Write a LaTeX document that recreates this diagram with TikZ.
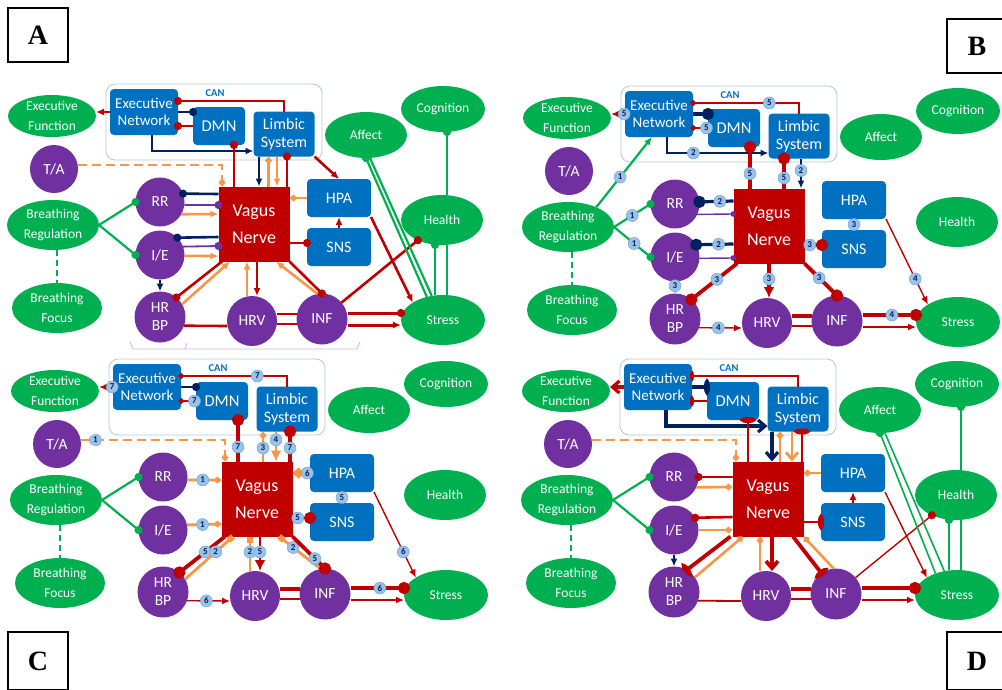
\documentclass[tikz,border=0pt]{standalone}
\usepackage{fontspec}
\setmainfont{Carlito}
\newfontfamily\lblfont{Liberation Serif}
\usetikzlibrary{shapes.geometric,arrows.meta}
\definecolor{grn}{RGB}{0,176,80}
\definecolor{prp}{RGB}{112,48,160}
\definecolor{blu}{RGB}{0,112,192}
\definecolor{dred}{RGB}{192,0,0}
\definecolor{org}{RGB}{247,150,70}
\definecolor{navy}{RGB}{0,32,96}
\definecolor{bdg}{RGB}{155,194,230}
\definecolor{canline}{RGB}{180,198,215}
\definecolor{lav}{RGB}{200,180,230}

\tikzset{
  ellnode/.style={ellipse, fill=grn, text=white, inner sep=0pt, outer sep=0pt, align=center, font=\fontsize{13.5}{19.5}\selectfont},
  bubble/.style={circle, fill=prp, text=white, inner sep=0pt, outer sep=0pt, align=center, font=\fontsize{15.5}{18}\selectfont},
  brain/.style={rectangle, rounded corners=4pt, fill=blu, text=white, inner sep=0pt, outer sep=0pt, align=center, font=\fontsize{15}{17}\selectfont},
  nerve/.style={rectangle, fill=dred, text=white, inner sep=0pt, outer sep=0pt, align=center, minimum width=71pt, minimum height=75pt, font=\fontsize{18}{27}\selectfont},
  canbox/.style={rectangle, rounded corners=9pt, draw=canline, line width=0.8pt, minimum width=216pt, minimum height=76pt},
  badge/.style={circle, fill=bdg, draw=bdg!70!blu, line width=0.5pt, inner sep=0pt, minimum size=12pt, text=navy, font=\fontsize{9}{9}\selectfont\bfseries},
  panelbox/.style={draw=black, line width=1.5pt, minimum width=60pt, minimum height=54pt, font=\lblfont\fontsize{28}{30}\selectfont\bfseries},
  rl/.style={draw=dred, line width=2.6pt},
  nl/.style={draw=navy, line width=2.6pt},
  ol/.style={draw=org, line width=2.6pt},
  gl/.style={draw=grn, line width=2.2pt},
  pl/.style={draw=prp, line width=1.8pt},
  tipto/.style={-{Latex[length=8pt,width=7pt]}},
  tipbig/.style={-{Latex[length=11pt,width=11pt]}},
  tipball/.style={-{Circle[length=8pt]}, shorten >=-4pt},
  tipsmall/.style={-{Circle[length=5.5pt]}, shorten >=-2.5pt},
  tipbigball/.style={-{Circle[length=12pt]}, shorten >=-6pt},
  tipdia/.style={-{Diamond[length=8pt,width=7pt]}},
  tipbigdia/.style={-{Diamond[length=12pt,width=11pt]}},
  tipsq/.style={-{Square[length=6pt,width=6pt]}},
  tipflat/.style={-{Ellipse[length=4pt,width=10pt]}, shorten >=-2pt},
  tipflatbig/.style={-{Ellipse[length=6pt,width=15pt]}, shorten >=-3pt},
  tipbarb/.style={-{Straight Barb[length=7pt,width=12pt]}},
  tadash/.style={dash pattern=on 9pt off 5pt},
}

% the nodes that every panel shares
\newcommand{\panelnodes}{%
  \node[canbox] (can) at (214,122) {};
  \node[text=blu, font=\fontsize{10.5}{10.5}\selectfont\bfseries] (cantag) at (215,93) {CAN};
  \node[ellnode, minimum width=88pt, minimum height=42pt] (ef) at (52,116) {Executive\\Function};
  \node[brain, minimum width=68pt, minimum height=46pt] (en) at (144,112) {Executive\\Network};
  \node[brain, minimum width=52pt, minimum height=38pt, font=\fontsize{16.5}{18}\selectfont] (dmn) at (219,126) {DMN};
  \node[brain, minimum width=61pt, minimum height=45pt, font=\fontsize{16}{18}\selectfont] (lim) at (284,134) {Limbic\\System};
  \node[ellnode, minimum width=82pt, minimum height=46pt] (aff) at (366,135) {Affect};
  \node[ellnode, minimum width=84pt, minimum height=46pt] (cog) at (443,109) {Cognition};
  \node[bubble, minimum size=48pt] (ta) at (54,169) {T/A};
  \node[ellnode, minimum width=92pt, minimum height=50pt] (br) at (53,225) {Breathing\\Regulation};
  \node[ellnode, minimum width=90pt, minimum height=50pt] (bf) at (57,308) {Breathing\\Focus};
  \node[bubble, minimum size=49pt] (rr) at (160,202) {RR};
  \node[bubble, minimum size=49pt] (ie) at (160,255) {I/E};
  \node[bubble, minimum size=51pt] (hrbp) at (160,317) {HR\\BP};
  \node[bubble, minimum size=50pt] (hrv) at (252,321) {HRV};
  \node[bubble, minimum size=51pt] (inf) at (322,319) {INF};
  \node[ellnode, minimum width=84pt, minimum height=50pt] (stress) at (443,320) {Stress};
  \node[ellnode, minimum width=82pt, minimum height=50pt] (health) at (442,220) {Health};
  \node[nerve] (vn) at (254,224) {Vagus\\Nerve};
  \node[brain, minimum width=64pt, minimum height=38pt, font=\fontsize{16}{18}\selectfont] (hpa) at (339,198) {HPA};
  \node[brain, minimum width=64pt, minimum height=38pt, font=\fontsize{16}{18}\selectfont] (sns) at (339,247) {SNS};
  \draw[gl, dash pattern=on 6pt off 4pt] (bf.north |- br.south) -- (bf.north);
}

\begin{document}
\begin{tikzpicture}[x=1pt,y=-1pt]
\useasboundingbox (0,0) rectangle (1002,689);

\node[panelbox] (lbla) at (38,35) {A};
\node[panelbox] (lblb) at (977,46) {B};
\node[panelbox, minimum height=58pt] (lblc) at (38,661) {C};
\node[panelbox, minimum height=58pt] (lbld) at (977,661) {D};
\draw[lav, line width=0.8pt] (130,342) -- (133,349) -- (357,349) -- (360,342);
\draw[lav, line width=0.8pt] (187,343) -- (185,349);

% A
\begin{scope}[name prefix=a-]
\panelnodes
\draw[rl, tipto] (en.west) -- (en.west -| ef.east);
\draw[rl, tipball] (lim.north) |- ([yshift=11pt]en.east);
\draw[nl, tipball] (en.east) -- (en.east -| dmn.west);
\draw[rl, tipball] (dmn.west) -- (dmn.west -| en.east);
\draw[nl, tipto] ([xshift=8pt]en.south) |- ([yshift=-17pt]lim.west);
\draw[rl, tipball] ([xshift=-20pt]vn.north) -- ([xshift=15pt]dmn.south);
\draw[nl, tipto] ([xshift=-25pt]lim.south) -- ([xshift=5pt]vn.north);
\draw[ol, tipdia] ([xshift=14.5pt]vn.north) -- ([xshift=-15.5pt]lim.south);
\draw[ol, tipto] ([xshift=-7pt]lim.south) -- ([xshift=23pt]vn.north);
\draw[rl, tipball] ([xshift=33pt]vn.north) -- ([xshift=3pt]lim.south);
\draw[rl, tipto] (lim.south east) -- (hpa.north);
\draw[ol, tadash, tipdia] ([yshift=4pt]ta.east) -| ([xshift=-32pt]vn.north);
\draw[gl, tipball] (br.east) -- (rr.west);
\draw[gl, tipball] (br.east) -- (ie.west);
\draw[nl, tipball] ([yshift=30pt]vn.west) -- (rr.20);
\draw[pl, tipball] (rr.-7) -- ([yshift=19pt]vn.west);
\draw[ol, tipto] (rr.-30) -- ([yshift=10pt]vn.west);
\draw[nl, tipball] ([yshift=-13pt]vn.west) -- (ie.45);
\draw[pl, tipball] (ie.20) -- ([yshift=-22pt]vn.west);
\draw[ol, tipto] (ie.-2) -- ([yshift=-32pt]vn.west);
\draw[nl, tipto] (ie.south) -- (hrbp.north);
\draw[rl, tipball] ([xshift=3.5pt]vn.south west) -- (hrbp.50);
\draw[ol, tipto] (hrbp.30) -- ([xshift=11.5pt]vn.south west);
\draw[ol, tipto] ([xshift=-5pt]hrv.north) -- ([xshift=-7pt]vn.south);
\draw[rl, tipto] ([xshift=3pt]vn.south) -- ([xshift=5pt]hrv.north);
\draw[ol, tipto] (inf.100) -- ([xshift=22pt]vn.south);
\draw[rl, tipball] (vn.south east) -- (inf.north);
\draw[rl, tipball] ([yshift=-19pt]vn.east) -- ([yshift=4pt]sns.west);
\draw[rl, tipto] (sns.north) -- (hpa.south);
\draw[ol, tipdia] (hpa.west) -- (hpa.west -| vn.east);
\draw[rl] (hrbp.-20) -- ([yshift=-5pt]hrv.west);
\draw[rl] ([yshift=7pt]hrv.east) -- ([yshift=5pt]inf.west);
\draw[rl] ([yshift=-3pt]hrv.east) -- ([yshift=-5pt]inf.west);
\draw[rl, line width=3pt, tipball] ([yshift=6pt]inf.east) -- ([yshift=7pt]stress.west);
\draw[rl, line width=3pt, tipto] ([yshift=-6pt]inf.east) -- ([yshift=-5pt]stress.west);
\draw[rl, tipball] (inf.40) -- (health.-140);
\draw[rl, tipto] (hpa.south east) -- (stress.150);
\draw[gl, tipball] (stress.125) -- (aff.south);
\draw[gl] (stress.115) -- ([xshift=4pt]aff.south);
\draw[gl, tipball] ([xshift=-8pt]stress.north) -- ([xshift=-7pt]health.south);
\draw[gl] ([xshift=4pt]stress.north) -- ([xshift=5pt]health.south);
\draw[gl, tipball] ([xshift=5pt]health.north) -- ([xshift=4pt]cog.south);
\end{scope}

% B
\begin{scope}[shift={(515,2)}, name prefix=b-]
\panelnodes
\draw[rl, line width=3.2pt, tipto] (en.west) -- (en.west -| ef.east) node[badge, pos=0.06]{5};
\draw[rl, line width=1.8pt, tipsmall] (lim.north) |- ([yshift=11pt]en.east) node[badge, pos=0.64]{5};
\draw[nl, line width=3.2pt, tipbigball] (en.east) -- (en.east -| dmn.west);
\draw[rl, line width=1.8pt, tipsmall] (dmn.west) -- (dmn.west -| en.east) node[badge, pos=0.1]{5};
\draw[nl, tipto] ([xshift=8pt]en.south) |- ([yshift=-17pt]lim.west) node[badge, pos=0.63]{2};
\draw[rl, line width=3.8pt, tipbigball] ([xshift=-19pt]vn.north) -- ([xshift=16pt]dmn.south) node[badge, pos=0.36]{5};
\draw[rl, line width=3.8pt, tipbigball] ([xshift=15pt]vn.north) -- ([xshift=-15pt]lim.south) node[badge, pos=0.35]{5};
\draw[nl, tipto] ([xshift=2pt]lim.south) -- ([xshift=32pt]vn.north) node[badge, pos=0.4]{2};
\draw[gl, tipto] (br.35) -- ([xshift=-7pt]en.south) node[badge, pos=0.43]{1};
\draw[gl, tipball] (br.east) -- (rr.west) node[badge, pos=0.5]{1};
\draw[gl, tipball] (br.east) -- (ie.west) node[badge, pos=0.55]{1};
\draw[nl, line width=3.2pt, tipbigball] ([yshift=25pt]vn.west) -- (rr.5) node[badge, pos=0.4]{2};
\draw[pl, line width=1.4pt, tipsmall] (rr.-25) -- ([yshift=12pt]vn.west);
\draw[nl, line width=3.2pt, tipbigball] ([yshift=-18pt]vn.west) -- (ie.30) node[badge, pos=0.4]{2};
\draw[pl, line width=1.4pt, tipsmall] (ie.-3) -- ([yshift=-32pt]vn.west);
\draw[nl, line width=1.4pt, tipto] (ie.south) -- (hrbp.north) node[badge, pos=0.35]{3};
\draw[rl, line width=3.8pt, tipbigball] ([xshift=3.5pt]vn.south west) -- (hrbp.50) node[badge, pos=0.44]{3};
\draw[rl, line width=3.8pt, tipbig] (vn.south) -- (vn.south |- hrv.north) node[badge, pos=0.45]{3};
\draw[rl, line width=3.8pt, tipbigball] (vn.south east) -- (inf.north) node[badge, pos=0.45]{3};
\draw[rl, line width=3.8pt, tipbigball] ([yshift=-19pt]vn.east) -- ([yshift=4pt]sns.west) node[badge, pos=0.3]{3};
\draw[rl, line width=1.4pt, tipto] (sns.north) -- (hpa.south) node[badge, pos=0.5]{3};
\draw[rl, line width=1.4pt, tipto] (hpa.south east) -- (stress.150) node[badge, pos=0.7]{4};
\draw[rl, line width=1.4pt, tipto] (hrbp.-20) -- ([yshift=-5pt]hrv.west) node[badge, pos=0.45]{4};
\draw[rl, line width=3.8pt] ([yshift=7pt]hrv.east) -- ([yshift=5pt]inf.west);
\draw[rl, line width=1.4pt] ([yshift=-3pt]hrv.east) -- ([yshift=-5pt]inf.west);
\draw[rl, line width=3.8pt, tipbigball] ([yshift=6pt]inf.east) -- ([yshift=7pt]stress.west) node[badge, pos=0.55]{4};
\draw[rl, line width=1.4pt, tipto] ([yshift=-6pt]inf.east) -- ([yshift=-5pt]stress.west);
\end{scope}

% C
\begin{scope}[shift={(3,275)}, name prefix=c-]
\panelnodes
\draw[rl, line width=3.2pt, tipto] (en.west) -- (en.west -| ef.east) node[badge, pos=0.06]{7};
\draw[rl, line width=1.8pt, tipsmall] (lim.north) |- ([yshift=11pt]en.east) node[badge, pos=0.64]{7};
\draw[nl, line width=2.6pt, tipball] (en.east) -- (en.east -| dmn.west);
\draw[rl, line width=1.8pt, tipsmall] (dmn.west) -- (dmn.west -| en.east) node[badge, pos=0.1]{7};
\draw[rl, line width=3.2pt, tipbigball] ([xshift=-19pt]vn.north) -- ([xshift=16pt]dmn.south) node[badge, pos=0.35]{7};
\draw[ol, line width=2.8pt, tipdia] ([xshift=6pt]vn.north) -- ([xshift=-24pt]lim.south) node[badge, pos=0.45]{3};
\draw[ol, line width=2.8pt, tipbig] ([xshift=-11pt]lim.south) -- ([xshift=19pt]vn.north) node[badge, pos=0.28]{4};
\draw[rl, line width=3.2pt, tipbigball] ([xshift=33pt]vn.north) -- ([xshift=3pt]lim.south) node[badge, pos=0.45]{7};
\draw[ol, tadash, tipdia] ([yshift=4pt]ta.east) -| ([xshift=-32pt]vn.north) node[badge, pos=0.05]{1};
\draw[gl, tipball] (br.east) -- (rr.west);
\draw[gl, tipball] (br.east) -- (ie.west);
\draw[ol, line width=2.8pt, tipdia] (rr.-7) -- ([yshift=19pt]vn.west) node[badge, pos=0.45]{1};
\draw[ol, line width=2.8pt, tipdia] (ie.12) -- ([yshift=-25pt]vn.west) node[badge, pos=0.45]{1};
\draw[ol, line width=2.8pt, tipbigdia] (hpa.west) -- (hpa.west -| vn.east) node[badge, pos=0.15]{6};
\draw[rl, line width=2.8pt, tipbigball] ([yshift=-19pt]vn.east) -- ([yshift=4pt]sns.west) node[badge, pos=0.3]{5};
\draw[rl, line width=1.4pt, tipto] (sns.north) -- (hpa.south) node[badge, pos=0.5]{5};
\draw[rl, line width=1.4pt, tipto] (hpa.south east) -- (stress.150) node[badge, pos=0.7]{6};
\draw[rl, line width=3.8pt, tipbigball] ([xshift=3.5pt]vn.south west) -- (hrbp.50) node[badge, pos=0.43]{5};
\draw[ol, line width=2.8pt, tipsq] (hrbp.30) -- ([xshift=11.5pt]vn.south west) node[badge, pos=0.64]{2};
\draw[ol, line width=2.8pt, tipsq] ([xshift=-5pt]hrv.north) -- ([xshift=-7pt]vn.south) node[badge, pos=0.55]{2};
\draw[rl, line width=2.8pt, tipbig] ([xshift=3pt]vn.south) -- ([xshift=5pt]hrv.north) node[badge, pos=0.45]{5};
\draw[ol, line width=2.8pt, tipsq] (inf.100) -- ([xshift=22pt]vn.south) node[badge, pos=0.66]{2};
\draw[rl, line width=3.8pt, tipbigball] (vn.south east) -- (inf.north) node[badge, pos=0.69]{5};
\draw[rl, line width=1.4pt, tipto] (hrbp.-20) -- ([yshift=-5pt]hrv.west) node[badge, pos=0.45]{6};
\draw[rl, line width=3.8pt] ([yshift=7pt]hrv.east) -- ([yshift=5pt]inf.west);
\draw[rl, line width=1.4pt] ([yshift=-3pt]hrv.east) -- ([yshift=-5pt]inf.west);
\draw[rl, line width=3.8pt, tipbigball] ([yshift=6pt]inf.east) -- ([yshift=7pt]stress.west) node[badge, pos=0.55]{6};
\draw[rl, line width=1.4pt, tipto] ([yshift=-6pt]inf.east) -- ([yshift=-5pt]stress.west);
\end{scope}

% D
\begin{scope}[shift={(514,275)}, name prefix=d-]
\panelnodes
\draw[rl, line width=3.2pt, tipbarb] (en.west) -- (en.west -| ef.east);
\draw[rl, line width=1.8pt, tipflat] (lim.north) |- ([yshift=11pt]en.east);
\draw[nl, line width=3.2pt, tipflatbig] (en.east) -- (en.east -| dmn.west);
\draw[rl, line width=1.8pt, tipflat] (dmn.west) -- (dmn.west -| en.east);
\draw[nl, line width=3.2pt, tipbarb] ([xshift=8pt]en.south) |- ([yshift=-17pt]lim.west);
\draw[nl, line width=3.2pt, tipbarb] ([xshift=-26pt]lim.south) -- ([xshift=4pt]vn.north);
\draw[rl, line width=2.8pt, tipflatbig] ([xshift=-20pt]vn.north) -- ([xshift=15pt]dmn.south);
\draw[ol, line width=2.8pt, tipdia] ([xshift=12pt]vn.north) -- ([xshift=-18pt]lim.south);
\draw[ol, line width=2.8pt, tipbarb] ([xshift=-6pt]lim.south) -- ([xshift=24pt]vn.north);
\draw[rl, line width=2.8pt, tipflatbig] ([xshift=34pt]vn.north) -- ([xshift=4pt]lim.south);
\draw[ol, tadash, tipdia] ([yshift=4pt]ta.east) -| ([xshift=-32pt]vn.north);
\draw[gl, tipball] (br.east) -- (rr.west);
\draw[gl, tipball] (br.east) -- (ie.west);
\draw[rl, tipball] ([yshift=22pt]vn.west) -- (rr.east);
\draw[ol, tipdia] (rr.-25) -- ([yshift=12pt]vn.west);
\draw[rl, tipball] ([yshift=-18pt]vn.west) -- (ie.30);
\draw[ol, tipdia] (ie.east) -- ([yshift=-31pt]vn.west);
\draw[nl, tipto] (ie.south) -- (hrbp.north);
\draw[ol, tipdia] (hpa.west) -- (hpa.west -| vn.east);
\draw[rl, tipflatbig] ([yshift=-23pt]vn.east) -- (sns.west);
\draw[rl, line width=1.8pt, tipto] (sns.north) -- (hpa.south);
\draw[rl, line width=3.8pt, tipflatbig] ([xshift=-2pt]vn.south west) -- (hrbp.60);
\draw[ol, tipdia] (hrbp.35) -- ([xshift=10.5pt]vn.south west);
\draw[ol, tipdia] ([xshift=-6pt]hrv.north) -- ([xshift=-8pt]vn.south);
\draw[rl, line width=3.8pt, tipbarb] ([xshift=4pt]vn.south) -- ([xshift=6pt]hrv.north);
\draw[rl, line width=3.8pt, tipflatbig] ([xshift=25pt]vn.south) -- (inf.125);
\draw[ol, tipdia] (inf.95) -- (vn.south east);
\draw[rl, line width=1.4pt, tipball] (inf.40) -- (health.-140);
\draw[rl, line width=1.4pt, tipto] (hpa.south east) -- (stress.150);
\draw[gl, line width=1.6pt, tipball] (stress.135) -- (aff.south);
\draw[gl, line width=1.6pt] (stress.118) -- ([xshift=5pt]aff.south);
\draw[gl, tipball] ([xshift=-8pt]stress.north) -- ([xshift=-7pt]health.south);
\draw[gl] ([xshift=4pt]stress.north) -- ([xshift=5pt]health.south);
\draw[gl, tipball] ([xshift=5pt]health.north) -- ([xshift=4pt]cog.south);
\draw[rl, line width=1.8pt] (hrbp.-20) -- ([yshift=-5pt]hrv.west);
\draw[rl, line width=3.8pt] ([yshift=7pt]hrv.east) -- ([yshift=5pt]inf.west);
\draw[rl, line width=1.8pt] ([yshift=-3pt]hrv.east) -- ([yshift=-5pt]inf.west);
\draw[rl, line width=3.8pt, tipbigball] ([yshift=6pt]inf.east) -- ([yshift=7pt]stress.west);
\draw[rl, line width=1.8pt, tipto] ([yshift=-6pt]inf.east) -- ([yshift=-5pt]stress.west);
\end{scope}
\end{tikzpicture}
\end{document}
